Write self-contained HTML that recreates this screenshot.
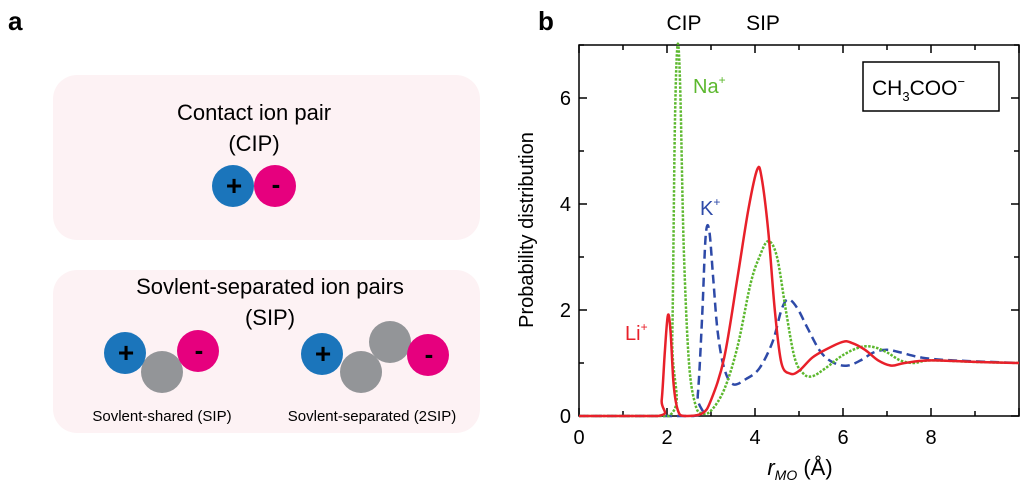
<!DOCTYPE html>
<html><head><meta charset="utf-8"><style>
body{margin:0;background:#fff;width:1024px;height:490px;overflow:hidden;font-family:"Liberation Sans",sans-serif}
svg text{font-family:"Liberation Sans",sans-serif}
</style></head><body>
<svg width="1024" height="490" xmlns="http://www.w3.org/2000/svg">
<text x="8" y="30" font-size="26" font-weight="bold">a</text>
<text x="538" y="30" font-size="26" font-weight="bold">b</text>
<g>
<rect x="53" y="75" width="427" height="165" rx="24" fill="#fdf2f4"/>
<text x="254" y="120" font-size="22" text-anchor="middle">Contact ion pair</text>
<text x="254" y="151" font-size="22" text-anchor="middle">(CIP)</text>
<circle cx="233" cy="186" r="21" fill="#1b75bb"/><circle cx="275" cy="186" r="21" fill="#e6007e"/>
<text x="234" y="195" font-size="28" font-weight="bold" text-anchor="middle">+</text><text x="276" y="193" font-size="26" font-weight="bold" text-anchor="middle">-</text>
</g>
<g>
<rect x="53" y="270" width="427" height="163" rx="24" fill="#fdf2f4"/>
<text x="270" y="294" font-size="22" text-anchor="middle">Sovlent-separated ion pairs</text>
<text x="270" y="325" font-size="22" text-anchor="middle">(SIP)</text>
<circle cx="162" cy="372" r="21" fill="#939598"/>
<circle cx="125" cy="353" r="21" fill="#1b75bb"/><circle cx="198" cy="351" r="21" fill="#e6007e"/>
<text x="126" y="362" font-size="28" font-weight="bold" text-anchor="middle">+</text><text x="199" y="359" font-size="26" font-weight="bold" text-anchor="middle">-</text>
<circle cx="361" cy="372" r="21" fill="#939598"/><circle cx="390" cy="342" r="21" fill="#939598"/>
<circle cx="322" cy="354" r="21" fill="#1b75bb"/><circle cx="428" cy="355" r="21" fill="#e6007e"/>
<text x="323" y="363" font-size="28" font-weight="bold" text-anchor="middle">+</text><text x="429" y="363" font-size="26" font-weight="bold" text-anchor="middle">-</text>
<text x="162" y="421" font-size="15" text-anchor="middle">Sovlent-shared (SIP)</text>
<text x="372" y="421" font-size="15" text-anchor="middle">Sovlent-separated (2SIP)</text>
</g>
<g id="chart"></g>
</svg>
<script>
const xTicks=[0,2,4,6,8];
const yTicks=[0,2,4,6];
const liX=[0,1.8,1.88,1.95,2.02,2.08,2.15,2.25,2.4,2.8,3.0,3.3,3.6,3.85,4.05,4.15,4.3,4.45,4.6,4.8,5.0,5.3,5.6,6.0,6.2,6.5,6.8,7.1,7.4,8,9,10];
const liY=[0,0,0.3,1.2,1.9,1.6,0.6,0.1,0,0.05,0.3,1.1,2.6,3.9,4.65,4.5,3.5,2.0,1.0,0.8,0.85,1.1,1.25,1.4,1.38,1.25,1.05,0.95,1.0,1.05,1.02,1.0];
const naX=[0,2.05,2.12,2.18,2.24,2.3,2.38,2.5,2.65,2.8,3.0,3.3,3.6,3.9,4.1,4.3,4.5,4.7,4.9,5.1,5.3,5.6,6.0,6.4,6.7,7.0,7.3,7.6,8,9,10];
const naY=[0,0,1.5,5.5,7.0,6.2,3.2,1.0,0.2,0.05,0.1,0.5,1.3,2.5,3.0,3.3,3.0,2.0,1.1,0.8,0.75,0.9,1.15,1.3,1.3,1.2,1.05,1.0,1.05,1.02,1.0];
const kX=[0,2.6,2.7,2.8,2.88,2.96,3.05,3.15,3.3,3.5,3.8,4.1,4.4,4.6,4.75,4.95,5.2,5.5,5.8,6.1,6.4,6.7,7.0,7.3,7.8,8.5,10];
const kY=[0,0,0.4,1.9,3.4,3.5,2.6,1.6,0.9,0.6,0.7,0.9,1.4,2.0,2.2,2.05,1.65,1.2,1.0,0.95,1.05,1.2,1.25,1.2,1.1,1.05,1.0];
const ns="http://www.w3.org/2000/svg";
const L=579,R=1019,T=45,B=416;
const sx=v=>L+v*(R-L)/10, sy=v=>B-v*(B-T)/7;
const g=document.getElementById('chart');
function mk(t,a,txt){const e=document.createElementNS(ns,t);for(const k in a)e.setAttribute(k,a[k]);if(txt!==undefined)e.textContent=txt;g.appendChild(e);return e;}
let e=mk('rect',{x:L,y:T,width:R-L,height:B-T,fill:'none',stroke:'#000','stroke-width':1.5});


for(let i=0;i<=10;i++){const x=sx(i),len=i%2?5:8;
mk('line',{x1:x,x2:x,y1:B,y2:B-len,stroke:'#000','stroke-width':1.5});
mk('line',{x1:x,x2:x,y1:T,y2:T+len,stroke:'#000','stroke-width':1.5});}
for(let i=0;i<=7;i++){const y=sy(i),len=i%2?5:8;
mk('line',{x1:L,x2:L+len,y1:y,y2:y,stroke:'#000','stroke-width':1.5});
mk('line',{x1:R,x2:R-len,y1:y,y2:y,stroke:'#000','stroke-width':1.5});}
xTicks.forEach(v=>{e=mk('text',{x:sx(v),y:B+28,'font-size':20,'text-anchor':'middle'},String(v));

});
yTicks.forEach(v=>{e=mk('text',{x:L-8,y:sy(v)+7,'font-size':20,'text-anchor':'end'},String(v));

});
function line(xs,ys,col,dash,name){
const P=xs.map((x,i)=>[sx(x),sy(ys[i])]);
const cl=y=>Math.min(B,y);
let d='M'+P[0][0]+','+P[0][1];
for(let i=0;i<P.length-1;i++){const p0=P[Math.max(0,i-1)],p1=P[i],p2=P[i+1],p3=P[Math.min(P.length-1,i+2)];
let c1=[p1[0]+(p2[0]-p0[0])/6,cl(p1[1]+(p2[1]-p0[1])/6)],c2=[p2[0]-(p3[0]-p1[0])/6,cl(p2[1]-(p3[1]-p1[1])/6)];
if(p1[1]>=B-0.01&&p2[1]>=B-0.01){c1[1]=B;c2[1]=B;}
d+=' C'+c1[0].toFixed(1)+','+c1[1].toFixed(1)+' '+c2[0].toFixed(1)+','+c2[1].toFixed(1)+' '+p2[0].toFixed(1)+','+p2[1].toFixed(1);}
const el=mk('path',{d:d,fill:'none',stroke:col,'stroke-width':2.5,'stroke-dasharray':dash,'stroke-linejoin':'round'});

}
line(kX,kY,'#2e4aa8','9,5','series-k');
line(naX,naY,'#5cb82e','2.5,1.5','series-na');
line(liX,liY,'#e8202a','','series-li');
e=mk('text',{x:533,y:230,'font-size':20,'text-anchor':'middle',transform:'rotate(-90 533 230)'},'Probability distribution');


e=mk('text',{x:800,y:475,'font-size':22,'text-anchor':'middle'});
e.innerHTML='<tspan font-style="italic">r</tspan><tspan font-style="italic" font-size="14" dy="5">MO</tspan><tspan dy="-5"> (Å)</tspan>';


e=mk('text',{x:684,y:30,'font-size':21,'text-anchor':'middle'},'CIP');


e=mk('text',{x:763,y:30,'font-size':21,'text-anchor':'middle'},'SIP');


e=mk('rect',{x:863,y:62,width:136,height:49,fill:'#fff',stroke:'#000','stroke-width':1.5});


e=mk('text',{x:872,y:95,'font-size':21});
e.innerHTML='CH<tspan font-size="13" dy="6">3</tspan><tspan dy="-6">COO</tspan><tspan font-size="13" dy="-9">−</tspan>';


function lab(x,y,col,t,name){const el=mk('text',{x:x,y:y,'font-size':20,fill:col});
el.innerHTML=t+'<tspan font-size="12" dy="-9">+</tspan>';

}
lab(693,93,'#5cb82e','Na','na-label');
lab(700,215,'#2e4aa8','K','k-label');
lab(625,340,'#e8202a','Li','li-label');
</script>
</body></html>
